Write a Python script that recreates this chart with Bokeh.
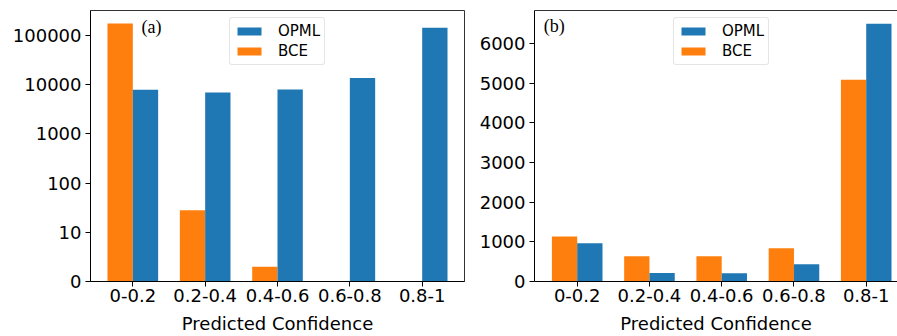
import math
from bokeh.plotting import figure
from bokeh.layouts import row
from bokeh.models import (ColumnDataSource, FixedTicker, Legend, LegendItem, Label,
                          LinearAxis, Range1d)
from bokeh.transform import dodge
from bokeh.embed import file_html
from bokeh.resources import INLINE

# ---------------- data ----------------
categories = ["0-0.2", "0.2-0.4", "0.4-0.6", "0.6-0.8", "0.8-1"]
opml_a = [7900, 7000, 8000, 13800, 144500]
bce_a = [176000, 28, 3, 0, 0]
opml_b = [965, 215, 210, 436, 6495]
bce_b = [1133, 638, 638, 839, 5086]
log_ticks_a = [0, 10, 100, 1000, 10000, 100000]
ticks_b = [0, 1000, 2000, 3000, 4000, 5000, 6000]

BLUE = "#1f77b4"
ORANGE = "#ff7f0e"
FONT = "DejaVu Sans"
BAR_W = 0.35
LINTHRESH = 10.0


def symlog(v):
    # symmetric log with linear part 0..10 spanning one decade
    if v <= LINTHRESH:
        return v / LINTHRESH
    return 1.0 + math.log10(v / LINTHRESH)


def style(p):
    p.xgrid.visible = False
    p.ygrid.visible = False
    p.background_fill_color = "white"
    p.border_fill_color = "white"
    for ax in (p.xaxis[0], p.yaxis[0]):
        ax.axis_line_color = "black"
        ax.axis_line_width = 1
        ax.major_tick_line_color = "black"
        ax.major_tick_out = 5
        ax.major_tick_in = 0
        ax.minor_tick_out = 0
        ax.minor_tick_in = 0
        ax.major_label_text_font = FONT
        ax.major_label_text_font_size = "18px"
        ax.major_label_text_color = "black"
    xa = p.xaxis[0]
    xa.ticker = FixedTicker(ticks=list(range(len(categories))))
    xa.major_label_overrides = {i: c for i, c in enumerate(categories)}
    xa.major_label_standoff = 2
    xa.axis_label = "Predicted Confidence"
    xa.axis_label_text_font = FONT
    xa.axis_label_text_font_size = "18px"
    xa.axis_label_text_font_style = "normal"
    xa.axis_label_text_color = "black"
    xa.axis_label_standoff = 8
    p.yaxis[0].major_label_standoff = 4


def add_legend(p, r_opml, r_bce):
    leg = Legend(items=[LegendItem(label="OPML", renderers=[r_opml]),
                        LegendItem(label="BCE", renderers=[r_bce])],
                 location=(139, 216))
    leg.label_text_font = FONT
    leg.label_text_font_size = "15px"
    leg.label_text_color = "black"
    leg.glyph_width = 30
    leg.glyph_height = 10
    leg.label_height = 12
    leg.label_standoff = 14
    leg.padding = 4
    leg.spacing = 2
    leg.margin = 0
    leg.border_line_color = "#cccccc"
    leg.border_line_width = 1
    leg.background_fill_color = "white"
    leg.background_fill_alpha = 0.8
    if "border_radius" in leg.properties():
        leg.border_radius = 3
    p.add_layout(leg, "center")


# ---------------- panel (a) ----------------
src_a = ColumnDataSource(dict(
    x=list(range(len(categories))),
    opml=[symlog(v) for v in opml_a],
    bce=[symlog(v) for v in bce_a],
))

YA_END = 5.51
pa = figure(width=470, height=336, output_backend="svg", toolbar_location=None,
            x_range=Range1d(-0.585, 4.585), y_range=Range1d(0, YA_END),
            min_border_left=90, min_border_right=6, min_border_top=10, min_border_bottom=55)
rb_a = pa.vbar(x=dodge("x", -BAR_W / 2), top="bce", width=BAR_W, source=src_a,
               fill_color=ORANGE, line_color=None)
ro_a = pa.vbar(x=dodge("x", BAR_W / 2), top="opml", width=BAR_W, source=src_a,
               fill_color=BLUE, line_color=None)
style(pa)
pa.outline_line_color = "#333333"
pa.outline_line_width = 1
pa.yaxis[0].ticker = FixedTicker(ticks=[symlog(v) for v in log_ticks_a])
pa.yaxis[0].major_label_overrides = {symlog(v): str(v) for v in log_ticks_a}
add_legend(pa, ro_a, rb_a)
pa.add_layout(Label(x=0.12, y=5.175, text="(a)", text_font="Liberation Serif",
                    text_font_size="18px", text_color="black",
                    text_baseline="alphabetic", text_align="left"))

# ---------------- panel (b) ----------------
src_b = ColumnDataSource(dict(
    x=list(range(len(categories))),
    opml=opml_b,
    bce=bce_b,
))

YB_END = 6830
pb = figure(width=427, height=336, output_backend="svg", toolbar_location=None,
            x_range=Range1d(-0.591, 4.433), y_range=Range1d(0, YB_END),
            min_border_left=64, min_border_right=0, min_border_top=10, min_border_bottom=55)
rb_b = pb.vbar(x=dodge("x", -BAR_W / 2), top="bce", width=BAR_W, source=src_b,
               fill_color=ORANGE, line_color=None)
ro_b = pb.vbar(x=dodge("x", BAR_W / 2), top="opml", width=BAR_W, source=src_b,
               fill_color=BLUE, line_color=None)
style(pb)
pb.outline_line_color = None
pb.yaxis[0].ticker = FixedTicker(ticks=ticks_b)
pb.yaxis[0].major_label_overrides = {v: str(v) for v in ticks_b}
top_axis = LinearAxis(ticker=FixedTicker(ticks=[]), major_label_text_font_size="0px",
                      major_tick_out=0, major_tick_in=0, minor_tick_out=0, minor_tick_in=0,
                      major_label_standoff=0, axis_line_color="#333333", axis_line_width=1)
pb.add_layout(top_axis, "above")
add_legend(pb, ro_b, rb_b)
pb.add_layout(Label(x=-0.462, y=6451, text="(b)", text_font="Liberation Serif",
                    text_font_size="18px", text_color="black",
                    text_baseline="alphabetic", text_align="left"))

layout = row(pa, pb)

with open("out.html", "w") as f:
    f.write(file_html(layout, INLINE))
